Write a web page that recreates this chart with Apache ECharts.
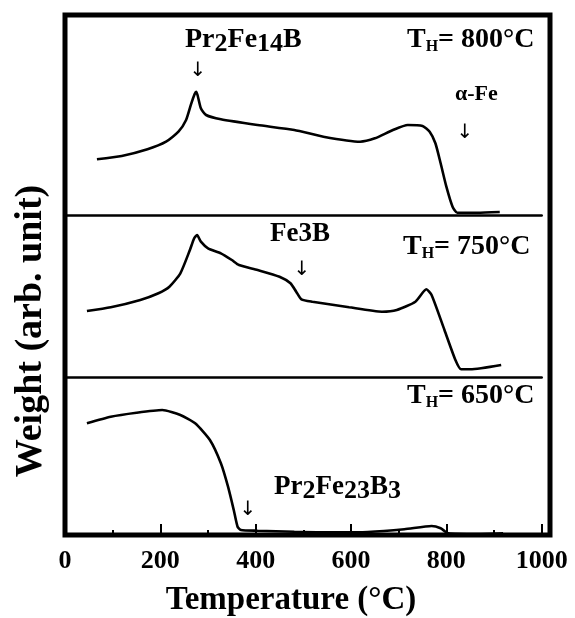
<!DOCTYPE html>
<html><head><meta charset="utf-8">
<script src="https://cdn.jsdelivr.net/npm/echarts@6/dist/echarts.min.js"></script>
<style>html,body{margin:0;padding:0;background:#fff}#c{width:575px;height:618px}</style>
</head><body><div id="c"></div>
<script>
// x tick labels (°C)
const xTickValues = [0, 200, 400, 600, 800, 1000];

// T_H = 800 °C panel (top)
const temp800   = [67, 119, 173, 212, 238, 254, 265, 272, 275, 278, 285, 296, 327, 404, 481, 542, 619, 650, 688, 719, 750, 765, 777, 788, 800, 813, 823, 865, 912];
const weight800 = [55.7, 59, 65.7, 73.3, 83.3, 95, 111.7, 121, 123.3, 120, 106.7, 100, 95.7, 90, 85, 78.3, 73.3, 76.7, 85, 90, 89, 83.3, 71.7, 51.7, 28.3, 8.3, 2.3, 2.3, 3];

// T_H = 750 °C panel (middle)
const temp750   = [46, 96, 158, 196, 219, 242, 262, 271, 277, 285, 300, 327, 350, 365, 404, 450, 473, 485, 496, 519, 596, 665, 696, 735, 758, 769, 796, 819, 831, 850, 915];
const weight750 = [66, 69.7, 77, 83.7, 90.3, 103.7, 127, 138.7, 142, 135.3, 128.7, 123.7, 117, 112, 107, 100.3, 93.7, 85.3, 77.7, 75.3, 69.7, 65.3, 67, 75.3, 87.7, 82, 47, 17, 7.7, 7.7, 12];

// T_H = 650 °C panel (bottom)
const temp650   = [46, 96, 150, 204, 242, 273, 304, 327, 342, 354, 362, 369, 404, 481, 558, 635, 712, 769, 788, 804, 865, 919];
const weight650 = [111.7, 118.3, 122.3, 125, 120, 111.7, 95, 71.7, 48.3, 25, 8.3, 5, 4.3, 3.3, 2.7, 3, 5.7, 9, 6.7, 1.7, 1, 1.7];

const SERIF = 'Liberation Serif';
const chart = echarts.init(document.getElementById('c'), null, {renderer: 'canvas'});

const pair = (xs, ys) => xs.map((x, i) => [x, ys[i]]);
const PLOT_LEFT = 65, PLOT_W = 476.7;
const panels = [
  {top: 15, height: 200},
  {top: 215, height: 162},
  {top: 377, height: 158}
];

const grids = panels.map(p => ({left: PLOT_LEFT, width: PLOT_W, top: p.top, height: p.height, outerBoundsMode: 'none', containLabel: false}));
grids.push({left: 65, width: 485, top: 15, height: 520, show: true, borderColor: '#000', borderWidth: 5, backgroundColor: 'transparent', outerBoundsMode: 'none', containLabel: false});

const xAxes = panels.map((p, i) => {
  const base = {gridIndex: i, type: 'value', min: 0, max: 1000, interval: 200, splitLine: {show: false}};
  if (i < 2) {
    return Object.assign(base, {
      axisLine: {show: true, onZero: false, lineStyle: {color: '#000', width: 2.5}},
      axisTick: {show: false}, axisLabel: {show: false}
    });
  }
  return Object.assign(base, {
    axisLine: {show: false},
    axisTick: {show: true, inside: true, length: 11, lineStyle: {color: '#000', width: 2}},
    minorTick: {show: true, splitNumber: 2, length: 5, lineStyle: {color: '#000', width: 2}},
    axisLabel: {show: true, margin: 13, fontSize: 26, fontWeight: 700, fontFamily: SERIF, color: '#000',
      formatter: v => xTickValues.includes(v) ? String(v) : ''}
  });
});
xAxes.push({gridIndex: 3, type: 'value', show: false, min: 0, max: 1});

const yAxes = panels.map((p, i) => ({gridIndex: i, type: 'value', min: 0, max: p.height, show: false}));
yAxes.push({gridIndex: 3, type: 'value', show: false, min: 0, max: 1});

const lineSeries = (data, i) => ({
  type: 'line', xAxisIndex: i, yAxisIndex: i, data, showSymbol: false, smooth: 0.2,
  lineStyle: {color: '#000', width: 2.6}, z: 3
});

const txt = (text, x, y, size, opts = {}) => Object.assign({
  type: 'text', x, y, z: 10,
  style: Object.assign({text, fontSize: size, fontWeight: 'bold', fontFamily: SERIF, fill: '#000',
    textAlign: 'left', textVerticalAlign: 'middle'}, opts.style || {})
}, opts.el || {});

const richSub = {
  s: {fontSize: 26, fontWeight: 'bold', fontFamily: SERIF, fill: '#000', padding: [8, 0, 0, 0]},
  h: {fontSize: 16, fontWeight: 'bold', fontFamily: SERIF, fill: '#000', padding: [14, 0, 0, 0]}
};

const arrow = (x, y) => txt('\u2193', x, y, 20, {style: {textAlign: 'center', fontWeight: 'normal', fontFamily: 'DejaVu Sans', fill: '#000'}});

chart.setOption({
  animation: false,
  backgroundColor: '#fff',
  grid: grids,
  xAxis: xAxes,
  yAxis: yAxes,
  series: [
    lineSeries(pair(temp800, weight800), 0),
    lineSeries(pair(temp750, weight750), 1),
    lineSeries(pair(temp650, weight650), 2)
  ],
  graphic: [
    txt('Pr{s|2}Fe{s|14}B', 185, 40, 28, {style: {rich: richSub}}),
    arrow(198, 71),
    txt('T{h|H}= 800°C', 407, 40, 28, {style: {rich: richSub}}),
    txt('\u03b1-Fe', 455, 94, 22),
    arrow(465, 133),
    txt('Fe3B', 270, 234, 27),
    arrow(302, 270),
    txt('T{h|H}= 750°C', 403, 247, 28, {style: {rich: richSub}}),
    txt('T{h|H}= 650°C', 407, 396, 28, {style: {rich: richSub}}),
    txt('Pr{s|2}Fe{s|23}B{s|3}', 274, 487, 27, {style: {rich: richSub}}),
    arrow(248, 510),
    txt('Temperature (°C)', 291, 600, 33, {style: {textAlign: 'center'}}),
    txt('Weight (arb. unit)', 31, 331, 38, {style: {textAlign: 'center'}, el: {rotation: Math.PI / 2}})
  ]
});
</script></body></html>
